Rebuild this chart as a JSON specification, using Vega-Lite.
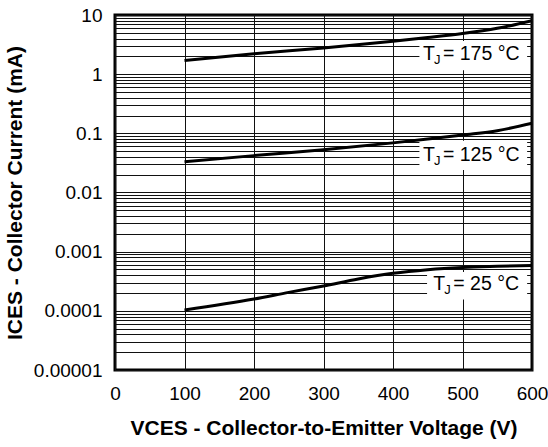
{
  "$schema": "https://vega.github.io/schema/vega-lite/v6.json",
  "autosize": {"type": "none"},
  "width": 417,
  "height": 355,
  "padding": {"left": 115, "top": 15, "right": 16, "bottom": 77},
  "background": "white",
  "config": {
    "font": "Liberation Sans",
    "view": {"stroke": "black", "strokeWidth": 3},
    "axis": {
      "domain": false,
      "ticks": false,
      "grid": true,
      "gridColor": "#111111",
      "gridWidth": 1,
      "gridOpacity": 1,
      "labelFont": "Liberation Sans",
      "labelFontSize": 19,
      "labelColor": "black",
      "labelFlush": false,
      "labelOverlap": false,
      "titleFont": "Liberation Sans",
      "titleFontSize": 21,
      "titleFontWeight": "bold",
      "titleColor": "black"
    }
  },
  "datasets": {
    "curves": [
      {"series": "175", "V": 100, "I": 1.70},
      {"series": "175", "V": 200, "I": 2.22},
      {"series": "175", "V": 300, "I": 2.77},
      {"series": "175", "V": 400, "I": 3.6},
      {"series": "175", "V": 450, "I": 4.15},
      {"series": "175", "V": 500, "I": 4.85},
      {"series": "175", "V": 550, "I": 5.95},
      {"series": "175", "V": 600, "I": 8.0},
      {"series": "125", "V": 100, "I": 0.033},
      {"series": "125", "V": 200, "I": 0.042},
      {"series": "125", "V": 300, "I": 0.053},
      {"series": "125", "V": 400, "I": 0.069},
      {"series": "125", "V": 450, "I": 0.08},
      {"series": "125", "V": 500, "I": 0.094},
      {"series": "125", "V": 550, "I": 0.111},
      {"series": "125", "V": 600, "I": 0.148},
      {"series": "25", "V": 100, "I": 0.000103},
      {"series": "25", "V": 200, "I": 0.000158},
      {"series": "25", "V": 250, "I": 0.000205},
      {"series": "25", "V": 300, "I": 0.000263},
      {"series": "25", "V": 350, "I": 0.000345},
      {"series": "25", "V": 400, "I": 0.00043},
      {"series": "25", "V": 450, "I": 0.000495},
      {"series": "25", "V": 500, "I": 0.00054},
      {"series": "25", "V": 550, "I": 0.000565},
      {"series": "25", "V": 600, "I": 0.000585}
    ],
    "labels": [
      {"series": "175", "tx": 443, "ty": 2.23, "bx1": 438, "bx2": 593, "by1": 1.17, "by2": 3.65, "t": "T", "sub": "J", "rest": "= 175 °C"},
      {"series": "125", "tx": 443, "ty": 0.0437, "bx1": 438, "bx2": 593, "by1": 0.0241, "by2": 0.0752, "t": "T", "sub": "J", "rest": "= 125 °C"},
      {"series": "25", "tx": 458, "ty": 0.000281, "bx1": 449, "bx2": 593, "by1": 0.000155, "by2": 0.000454, "t": "T", "sub": "J", "rest": "= 25 °C"}
    ]
  },
  "layer": [
    {
      "data": {"name": "labels"},
      "mark": {"type": "rect", "fill": "white", "stroke": null},
      "encoding": {
        "x": {
          "field": "bx1", "type": "quantitative",
          "scale": {"domain": [0, 600], "nice": false, "zero": false},
          "title": "VCES - Collector-to-Emitter Voltage (V)",
          "axis": {
            "values": [0, 100, 200, 300, 400, 500, 600],
            "labelPadding": 14,
            "titlePadding": 14
          }
        },
        "x2": {"field": "bx2"},
        "y": {
          "field": "by1", "type": "quantitative",
          "scale": {"type": "log", "domain": [0.00001, 10], "nice": false},
          "title": "ICES - Collector Current (mA)",
          "axis": {
            "values": [0.00001, 0.00002, 0.00003, 0.00004, 0.00005, 0.00006, 0.00007, 0.00008, 0.00009,
                       0.0001, 0.0002, 0.0003, 0.0004, 0.0005, 0.0006, 0.0007, 0.0008, 0.0009,
                       0.001, 0.002, 0.003, 0.004, 0.005, 0.006, 0.007, 0.008, 0.009,
                       0.01, 0.02, 0.03, 0.04, 0.05, 0.06, 0.07, 0.08, 0.09,
                       0.1, 0.2, 0.3, 0.4, 0.5, 0.6, 0.7, 0.8, 0.9,
                       1, 2, 3, 4, 5, 6, 7, 8, 9, 10],
            "format": "~g",
            "labelExpr": "indexof(['10','1','0.1','0.01','0.001','0.0001','0.00001'], datum.label) >= 0 ? datum.label : ''",
            "labelPadding": 13,
            "titlePadding": 8
          }
        },
        "y2": {"field": "by2"}
      }
    },
    {
      "data": {"name": "curves"},
      "mark": {"type": "line", "interpolate": "monotone", "strokeWidth": 3, "color": "black"},
      "encoding": {
        "x": {"field": "V", "type": "quantitative", "title": "VCES - Collector-to-Emitter Voltage (V)"},
        "y": {"field": "I", "type": "quantitative", "title": "ICES - Collector Current (mA)"},
        "detail": {"field": "series"}
      }
    },
    {
      "data": {"name": "labels"},
      "mark": {"type": "text", "align": "left", "baseline": "middle", "fontSize": 19.5, "color": "black"},
      "encoding": {
        "x": {"field": "tx", "type": "quantitative", "title": "VCES - Collector-to-Emitter Voltage (V)"},
        "y": {"field": "ty", "type": "quantitative", "title": "ICES - Collector Current (mA)"},
        "text": {"field": "t"}
      }
    },
    {
      "data": {"name": "labels"},
      "mark": {"type": "text", "align": "left", "baseline": "middle", "fontSize": 13, "dx": 11, "dy": 6, "color": "black"},
      "encoding": {
        "x": {"field": "tx", "type": "quantitative", "title": "VCES - Collector-to-Emitter Voltage (V)"},
        "y": {"field": "ty", "type": "quantitative", "title": "ICES - Collector Current (mA)"},
        "text": {"field": "sub"}
      }
    },
    {
      "data": {"name": "labels"},
      "mark": {"type": "text", "align": "left", "baseline": "middle", "fontSize": 19.5, "dx": 20, "color": "black"},
      "encoding": {
        "x": {"field": "tx", "type": "quantitative", "title": "VCES - Collector-to-Emitter Voltage (V)"},
        "y": {"field": "ty", "type": "quantitative", "title": "ICES - Collector Current (mA)"},
        "text": {"field": "rest"}
      }
    }
  ]
}
